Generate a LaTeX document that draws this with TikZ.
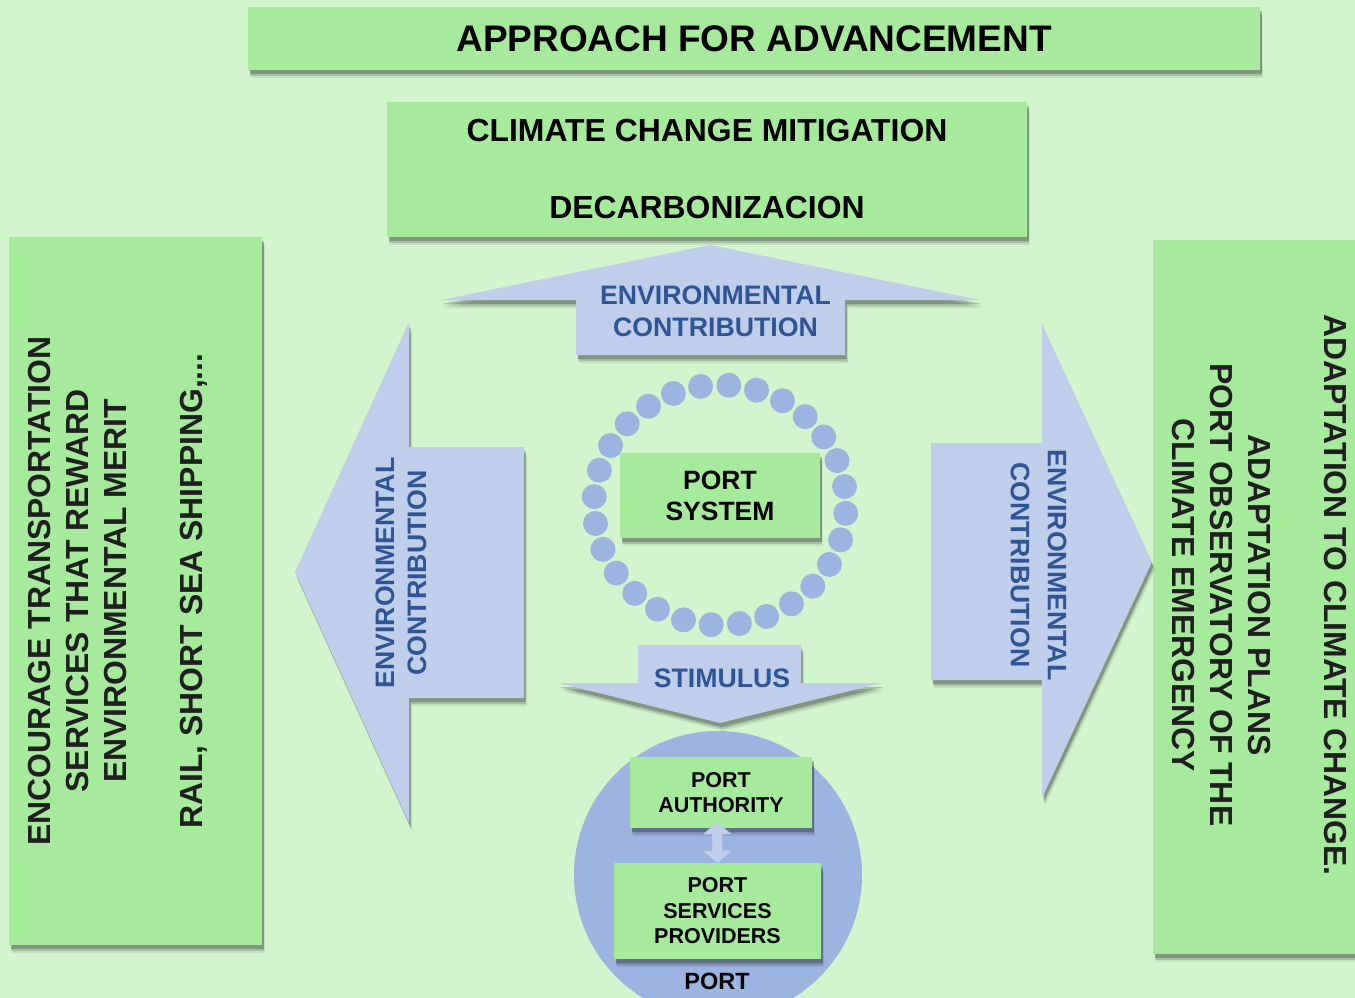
\documentclass[tikz,border=0pt]{standalone}
\usepackage{fontspec}
\setmainfont{Liberation Sans}
\usetikzlibrary{shadows,arrows.meta}
\definecolor{bgc}{RGB}{211,245,206}
\definecolor{boxc}{RGB}{166,235,156}
\definecolor{arrc}{RGB}{190,206,235}
\definecolor{txtb}{RGB}{47,85,151}
\definecolor{dotc}{RGB}{156,180,224}
\definecolor{circc}{RGB}{156,180,224}
\begin{document}
\begin{tikzpicture}[x=1pt,y=-1pt,
  shd/.style={
    drop shadow={shadow xshift=3pt,shadow yshift=-8pt,opacity=0.08,fill=black},
    drop shadow={shadow xshift=2pt,shadow yshift=-6pt,opacity=0.14,fill=black},
    drop shadow={shadow xshift=1.5pt,shadow yshift=-4pt,opacity=0.22,fill=black}},
  gbox/.style={fill=boxc,shd,inner sep=0pt,align=center,font=\bfseries},
  bshape/.style={fill=arrc,shd},
  btext/.style={text=txtb,font=\bfseries\fontsize{26.7}{32}\selectfont,align=center,inner sep=0pt},
  sidetext/.style={text=black!88,font=\bfseries\fontsize{31.9}{38}\selectfont,align=center,inner sep=0pt},
  dotst/.style={fill=dotc}
]
\useasboundingbox (0,0) rectangle (1355,998);
\clip (0,0) rectangle (1355,998);
\fill[bgc] (0,0) rectangle (1355,998);

% top boxes
\node[gbox,minimum width=1012pt,minimum height=63pt,font=\bfseries\fontsize{37}{43}\selectfont] (title) at (754,38.5) {APPROACH FOR ADVANCEMENT};
\node[gbox,minimum width=640pt,minimum height=135pt,font=\bfseries\fontsize{31.9}{38.5}\selectfont] (mitig) at (707,169.5) {CLIMATE CHANGE MITIGATION\\\mbox{}\\DECARBONIZACION};

% side boxes
\node[gbox,minimum width=253pt,minimum height=708pt] (leftbox) at (135.5,591) {};
\node[sidetext,rotate=90] (lefttext) at (117.5,591) {ENCOURAGE TRANSPORTATION\\SERVICES THAT REWARD\\ENVIRONMENTAL MERIT\\\mbox{}\\RAIL, SHORT SEA SHIPPING,...};
\node[gbox,minimum width=220pt,minimum height=714pt] (rightbox) at (1263,596.5) {};
\node[sidetext,rotate=-90] (righttext) at (1259,595) {ADAPTATION TO CLIMATE CHANGE.\\\mbox{}\\ADAPTATION PLANS\\PORT OBSERVATORY OF THE\\CLIMATE EMERGENCY};

% big arrows
\fill[bshape] (710,245) -- (980,300) -- (845,300) -- (845,355) -- (576,355) -- (576,300) -- (441,300) -- cycle;
\node[btext] (toptext) at (715.5,311) {ENVIRONMENTAL\\CONTRIBUTION};
\fill[bshape] (295,572) -- (409,322) -- (409,447) -- (524,447) -- (524,698) -- (409,698) -- (409,823) -- cycle;
\node[btext,rotate=90] (lefttxt) at (401,573) {ENVIRONMENTAL\\CONTRIBUTION};
\fill[bshape] (1152,562) -- (1042,324) -- (1042,443) -- (931,443) -- (931,680) -- (1042,680) -- (1042,798) -- cycle;
\node[btext,rotate=-90,font=\bfseries\fontsize{26.7}{37}\selectfont] (righttxt) at (1038.5,565) {ENVIRONMENTAL\\CONTRIBUTION};
\fill[bshape] (720,723) -- (558,683) -- (638,683) -- (638,645) -- (801,645) -- (801,683) -- (882,683) -- cycle;
\node[btext] (stim) at (722,678) {STIMULUS};

% ring of dots
\foreach \i in {0,...,27}{
  \fill[dotst] ({720+126*cos(274+\i*360/28)},{505+120*sin(274+\i*360/28)}) circle[radius=12.5pt];
}
\node[gbox,minimum width=200pt,minimum height=85pt,font=\bfseries\fontsize{26.5}{31}\selectfont] (psys) at (720,495.5) {PORT\\SYSTEM};

% port circle
\fill[circc] (718,875) circle[radius=144pt];
\node[gbox,minimum width=182pt,minimum height=71pt,font=\bfseries\fontsize{21.5}{25}\selectfont] (pa) at (721,792.5) {PORT\\AUTHORITY};
\node[gbox,minimum width=207pt,minimum height=96pt,font=\bfseries\fontsize{21.5}{25.5}\selectfont] (psp) at (717.5,911) {PORT\\SERVICES\\PROVIDERS};
\draw[arrc,line width=10pt,{Triangle[width=28pt,length=12pt]}-{Triangle[width=28pt,length=12pt]}] ([xshift=-4pt,yshift=6pt]pa.south) -- (psp.north);
\node[font=\bfseries\fontsize{23.5}{27}\selectfont,inner sep=0pt] (port) at (717,981) {PORT};
\end{tikzpicture}
\end{document}
